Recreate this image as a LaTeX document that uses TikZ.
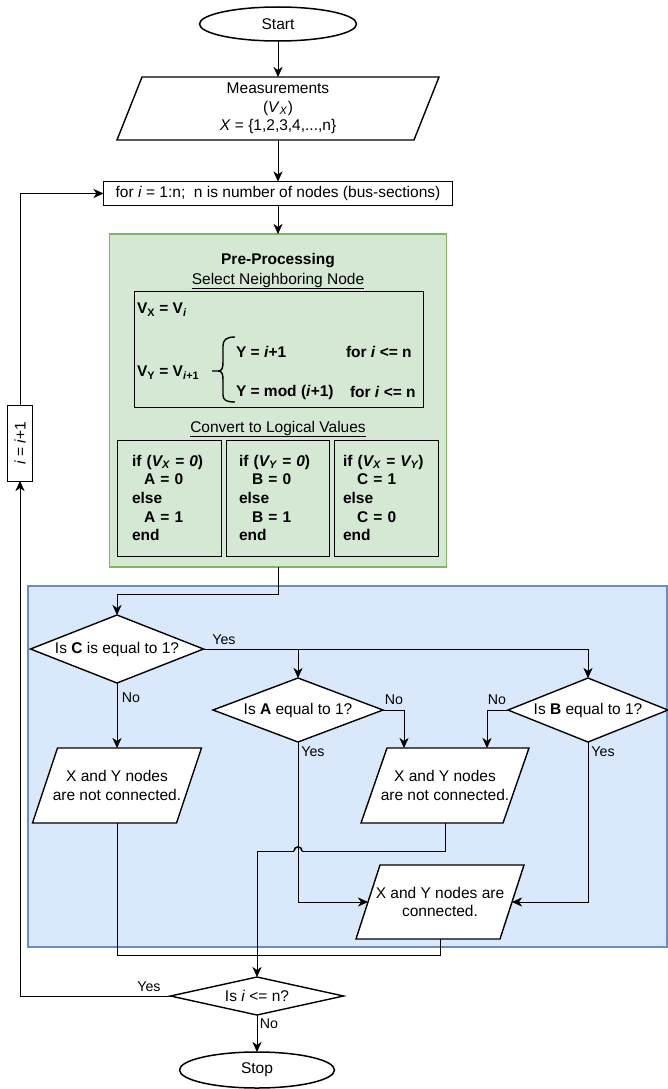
\documentclass[tikz,border=0pt]{standalone}
\usepackage{fontspec}
\setmainfont{Liberation Sans}
\usetikzlibrary{arrows.meta,shapes.geometric,calc}
\pgfdeclarelayer{bg}\pgfdeclarelayer{mid}\pgfsetlayers{bg,mid,main}
\definecolor{gfill}{HTML}{D5E8D4}\definecolor{gline}{HTML}{82B366}
\definecolor{bfill}{HTML}{DAE8FC}\definecolor{bline}{HTML}{6C8EBF}
\newcommand\nf{\fontsize{15.5}{18.6}\selectfont}
\newcommand\lf{\fontsize{14.2}{17}\selectfont}
\newcommand\parashape[2]{\begin{pgfonlayer}{mid}\draw[line width=1.4pt,fill=white] ([xshift=#2]#1.north west) -- (#1.north east) -- ([xshift=-#2]#1.south east) -- (#1.south west) -- cycle;\end{pgfonlayer}}
\newcommand\diashape[1]{\begin{pgfonlayer}{mid}\draw[line width=1.4pt,fill=white] (#1.north) -- (#1.east) -- (#1.south) -- (#1.west) -- cycle;\end{pgfonlayer}}
\begin{document}
\begin{tikzpicture}[x=1pt,y=-1pt,line width=1.4pt,
  every node/.style={font=\nf,inner sep=0pt,outer sep=0pt},
  arr/.style={-{Stealth[length=10pt,width=9pt,inset=3pt]}},
  lbl/.style={font=\lf},
  bld/.style={font=\nf\bfseries},
  curvy/.style={line width=1.5pt},
  bracestyle/.style={line width=1.4pt},
  term/.style={draw,fill=white,ellipse,curvy,minimum width=157pt,minimum height=34pt},
  cbox/.style={draw,minimum width=104pt,minimum height=116pt,align=left,font=\nf\bfseries,inner ysep=0pt}]
\useasboundingbox (0,0) rectangle (668,1089);
% backgrounds
\begin{pgfonlayer}{bg}
\node[draw=bline,fill=bfill,line width=1.4pt,minimum width=639pt,minimum height=361pt] (blue) at (347.5,766.5) {};
\node[draw=gline,fill=gfill,line width=1.4pt,minimum width=337pt,minimum height=333pt] (pre) at (278,400.5) {};
\end{pgfonlayer}
% top
\node[term] (start) at (278,24) {Start};
\node[minimum width=322pt,minimum height=63pt,align=center] (meas) at (278,108.5)
  {Measurements\\(\textit{V}\textsubscript{\textit{X}})\\\textit{X} = \{1,2,3,4,...,n\}};
\parashape{meas}{25pt}
\node[draw,fill=white,minimum width=349pt,minimum height=24pt] (forbox) at (278,193.5)
  {for \textit{i} = 1:n;\ \ n is number of nodes (bus-sections)};
% pre-processing content
\node[bld] (t1) at (278,261) {Pre-Processing};
\node (t2) at (278,281) {\underline{Select Neighboring Node}};
\node[draw,minimum width=289pt,minimum height=116pt] (sel) at (278.5,349) {};
\node[bld,anchor=west] (vx) at (137,310) {V\textsubscript{X} = V\textsubscript{\textit{i}}};
\node[bld,anchor=west] (vy) at (137,373) {V\textsubscript{Y} = V\textsubscript{\textit{i}+1}};
\draw[bracestyle] (212,371) -- (218,371)
  .. controls (222,371) and (223,368) .. (223,362) -- (223,346)
  .. controls (223,340) and (226,337) .. (235,337);
\draw[bracestyle] (218,371)
  .. controls (222,371) and (223,374) .. (223,380) -- (223,395)
  .. controls (223,400) and (226,402) .. (235,402);
\node[bld,anchor=west] (y1) at (236,352) {Y = \textit{i}+1};
\node[bld,anchor=west] (f1) at (346,352) {for \textit{i} <= n};
\node[bld,anchor=west] (y2) at (236,392) {Y = mod (\textit{i}+1)};
\node[bld,anchor=west] (f2) at (350,392) {for \textit{i} <= n};
\node (t3) at (278,429) {\underline{Convert to Logical Values}};
\node[cbox,inner xsep=15pt,text width=74pt] (c1) at (169,498)
  {if (\textit{V\textsubscript{X} = 0})\\\hspace*{12pt}A = 0\\else\\\hspace*{12pt}A = 1\\end};
\node[cbox,inner xsep=13pt,text width=77pt,minimum width=103pt] (c2) at (277.5,498)
  {if (\textit{V\textsubscript{Y} = 0})\\\hspace*{13pt}B = 0\\else\\\hspace*{13pt}B = 1\\end};
\node[cbox,inner xsep=9pt,text width=86pt] (c3) at (386,498)
  {if (\textit{V\textsubscript{X} = V\textsubscript{Y}})\\\hspace*{14pt}C = 1\\else\\\hspace*{14pt}C = 0\\end};
% loop counter
\node[draw,fill=white,rotate=90,minimum width=76pt,minimum height=25pt] (inc) at (20,443) {\textit{i} = \textit{i}+1};
% decisions
\node[minimum width=173pt,minimum height=68pt] (C) at (117,649) {Is \textbf{C} is equal to 1?};
\diashape{C}
\node[minimum width=170pt,minimum height=64pt] (A) at (298,710) {Is \textbf{A} equal to 1?};
\diashape{A}
\node[minimum width=160pt,minimum height=64pt] (B) at (588,710) {Is \textbf{B} equal to 1?};
\diashape{B}
% outputs
\node[minimum width=169pt,minimum height=75pt,align=center] (nc1) at (117,785.5) {X and Y nodes\\are not connected.};
\parashape{nc1}{25pt}
\node[minimum width=168pt,minimum height=75pt,align=center] (nc2) at (445,785.5) {X and Y nodes\\are not connected.};
\parashape{nc2}{26pt}
\node[minimum width=168pt,minimum height=74pt,align=center] (conn) at (440,902) {X and Y nodes are\\connected.};
\parashape{conn}{24pt}
\node[minimum width=173pt,minimum height=38pt] (iln) at (257,996) {Is \textit{i} <= n?};
\diashape{iln}
\node[term,minimum width=155pt,minimum height=36pt] (stop) at (257,1070) {Stop};
% connectors
\draw[arr] (start.south) -- (meas.north);
\draw[arr] (meas.south) -- (forbox.north);
\draw[arr] (forbox.south) -- (pre.north);
\coordinate (j1) at (278,594);
\draw[arr] (pre.south) -- (j1) -| (C.north);
\draw[arr] (C.east) -| (A.north);
\draw[arr] (C.east) -| (B.north);
\draw[arr] (C.south) -- (nc1.north);
\draw[arr] (A.east) -| ([xshift=-41pt]nc2.north);
\draw[arr] (B.west) -| ([xshift=42pt]nc2.north);
\draw[arr] (A.south) |- ([xshift=12pt]conn.west);
\draw[arr] (B.south) |- ([xshift=-12pt]conn.east);
\coordinate (j2) at (440,955);
\draw (nc1.south) |- (j2) -- (conn.south);
\coordinate (h1) at (302,851);
\coordinate (h2) at (294,851);
\draw (nc2.south) |- (h1);
\draw[curvy] (h1) .. controls (302,845.5) and (294,845.5) .. (h2);
\draw[arr] (h2) -| (iln.north);
\draw[arr] (iln.west) -| (inc.west);
\draw[arr] (inc.east) |- (forbox.west);
\draw[arr] (iln.south) -- (stop.north);
% labels
\node[lbl] at (224,640) {Yes};
\node[lbl] at (131,698) {No};
\node[lbl] at (313,752) {Yes};
\node[lbl] at (394,700) {No};
\node[lbl] at (497,700) {No};
\node[lbl] at (603,752) {Yes};
\node[lbl] at (149,987) {Yes};
\node[lbl] at (269,1024) {No};
\end{tikzpicture}
\end{document}
